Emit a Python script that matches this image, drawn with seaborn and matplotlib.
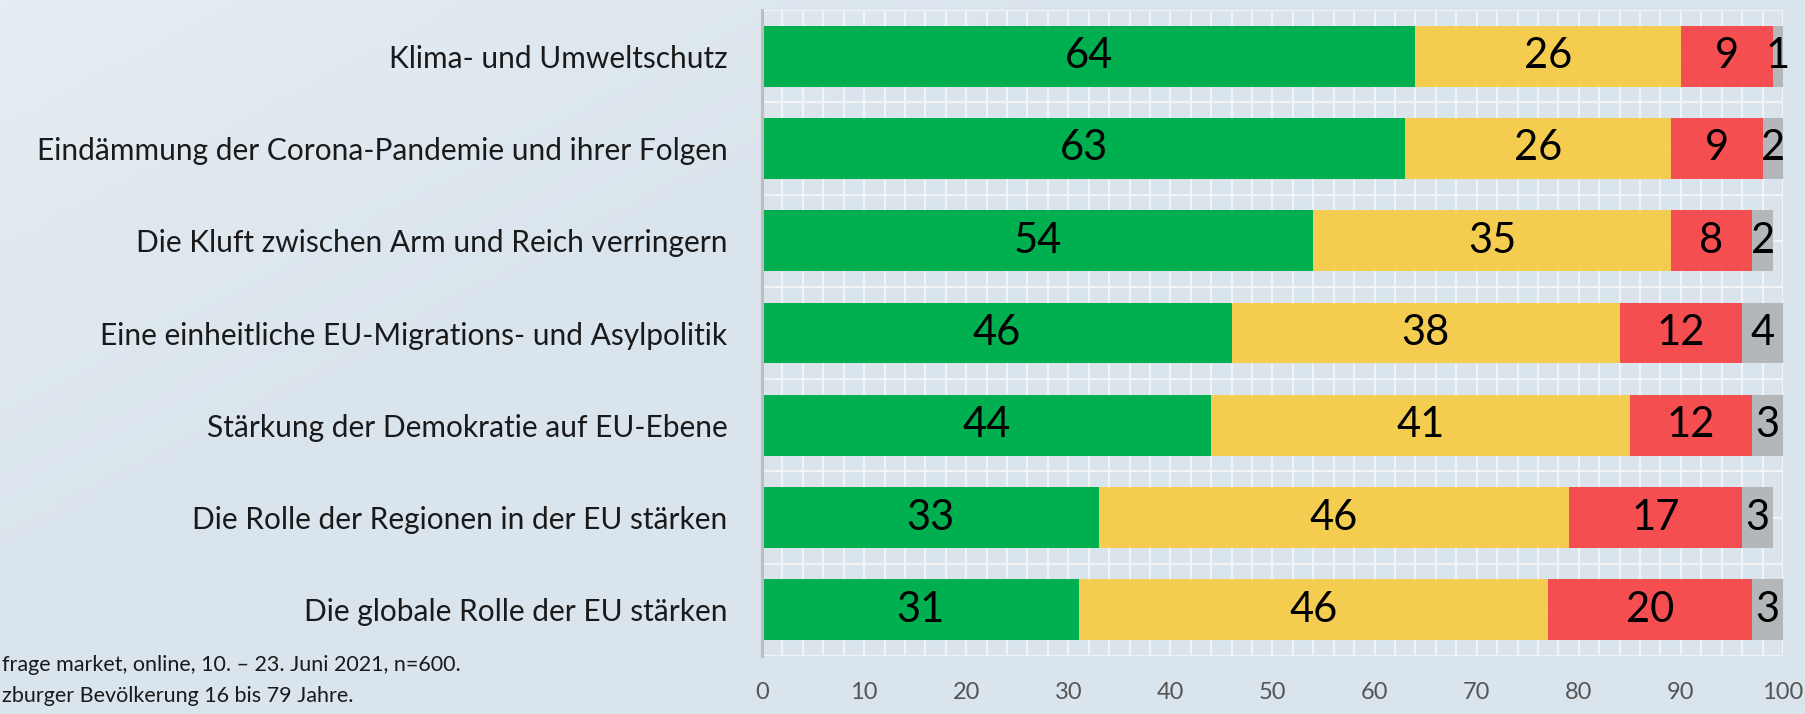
import numpy as np
import pandas as pd
import matplotlib
matplotlib.use("Agg")
import matplotlib.pyplot as plt
import seaborn as sns

# data (percent)
categories = [
    "Klima- und Umweltschutz",
    "Eindämmung der Corona-Pandemie und ihrer Folgen",
    "Die Kluft zwischen Arm und Reich verringern",
    "Eine einheitliche EU-Migrations- und Asylpolitik",
    "Stärkung der Demokratie auf EU-Ebene",
    "Die Rolle der Regionen in der EU stärken",
    "Die globale Rolle der EU stärken",
]
green = [64, 63, 54, 46, 44, 33, 31]
yellow = [26, 26, 35, 38, 41, 46, 46]
red = [9, 9, 8, 12, 12, 17, 20]
grey = [1, 2, 2, 4, 3, 3, 3]
x_ticks = [0, 10, 20, 30, 40, 50, 60, 70, 80, 90, 100]
footnote = ["frage market, online, 10. – 23. Juni 2021, n=600.",
            "zburger Bevölkerung 16 bis 79 Jahre."]

colors = ["#00AF50", "#F5CB48", "#F64649", "#B4B7BA"]
alphas = [1.0, 0.95, 0.95, 1.0]

sns.set_style("white")
plt.rcParams["font.family"] = ["Lato", "DejaVu Sans"]

fig = plt.figure(figsize=(18.06, 7.14), dpi=100)

# background gradient
bg = fig.add_axes([0, 0, 1, 1], zorder=-10)
gx, gy = np.meshgrid(np.linspace(0, 1, 300), np.linspace(0, 1, 120))
grad = np.clip(1 - (gx * 1.6 + gy * 1.2), 0, 1)
top = np.array([0xE6, 0xEE, 0xF3]) / 255
base = np.array([0xDA, 0xE4, 0xEC]) / 255
img = base + (top - base) * grad[..., None]
bg.imshow(img, aspect="auto", extent=[0, 1, 0, 1], origin="upper")
bg.axis("off")

ax = fig.add_axes([762 / 1806, 58 / 714, 1021 / 1806, 646 / 714])
ax.patch.set_alpha(0)

df = pd.DataFrame({"cat": categories, "g": green, "y": yellow, "r": red, "n": grey})
segs = ["g", "y", "r", "n"]
left = np.zeros(len(df))
for seg, col, a in zip(segs, colors, alphas):
    sns.barplot(data=df, x=seg, y="cat", orient="h", color=col, width=0.66,
                left=left, alpha=a, saturation=1, linewidth=0, ax=ax, zorder=2)
    vals = df[seg].to_numpy()
    for i, v in enumerate(vals):
        ax.text(left[i] + v / 2, i, str(v), ha="center", va="center",
                fontsize=30, color="black", zorder=5)
    left = left + vals

ax.set_xlim(0, 100)
ax.set_ylim(6.5, -0.5)
ax.set_xlabel("")
ax.set_ylabel("")
ax.set_xticks(x_ticks)
ax.set_xticks(np.arange(0, 101, 2), minor=True)
ax.set_yticks(np.arange(-0.5, 6.6, 0.5), minor=True)
ax.grid(which="both", color="#F1F3F5", linewidth=1.6, zorder=0)
ax.set_axisbelow(True)
ax.tick_params(axis="x", which="both", length=0, pad=19, labelsize=17, labelcolor="#555555")
ax.tick_params(axis="y", which="both", length=0, pad=25, labelsize=21.5, labelcolor="#1a1a1a")
for s in ["top", "right", "bottom"]:
    ax.spines[s].set_visible(False)
ax.spines["left"].set_color("#BDBDBD")
ax.spines["left"].set_linewidth(2.2)
ax.spines["left"].set_zorder(6)

fig.text(0.001, 1 - 665 / 714, footnote[0], ha="left", va="center", fontsize=15.5, color="#1a1a1a")
fig.text(0.001, 1 - 696 / 714, footnote[1], ha="left", va="center", fontsize=15.5, color="#1a1a1a")

fig.savefig("out.png", dpi=100)
